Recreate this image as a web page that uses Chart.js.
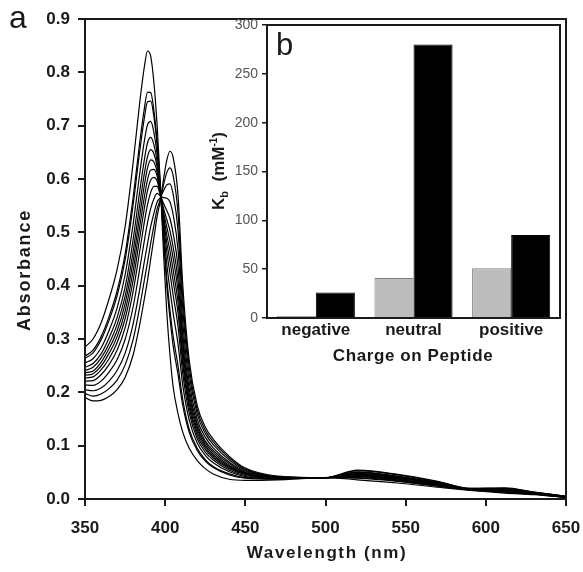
<!DOCTYPE html>
<html>
<head>
<meta charset="utf-8">
<script src="https://cdn.jsdelivr.net/npm/chart.js@4.4.1/dist/chart.umd.min.js"></script>
<style>
  html, body { margin: 0; padding: 0; background: #fff; }
  #wrap { position: relative; width: 583px; height: 572px; }
  #main { position: absolute; left: 0; top: 0; }
  #inset { position: absolute; left: 200px; top: 10px; }
</style>
</head>
<body>
<div id="wrap">
  <canvas id="main" width="583" height="572"></canvas>
  <canvas id="inset" width="363" height="361"></canvas>
</div>
<script>
// wavelengths (nm) shared by all spectra
const wavelengthNm = [350,355,360,365,370,375,380,384,387,389,391,393,395,397,399,401,403,405,408,411,415,420,425,430,440,450,470,500,520,545,570,590,612,630,650];

// absorbance spectra (390 nm form -> 403 nm form)
const abs01 = [0.285,0.300,0.330,0.375,0.430,0.510,0.630,0.740,0.810,0.840,0.830,0.780,0.700,0.590,0.460,0.350,0.270,0.210,0.160,0.125,0.095,0.072,0.057,0.047,0.037,0.035,0.036,0.040,0.036,0.030,0.022,0.016,0.011,0.008,0.003];
const abs02 = [0.268,0.279,0.304,0.342,0.390,0.459,0.565,0.665,0.732,0.763,0.762,0.728,0.669,0.585,0.485,0.401,0.339,0.287,0.234,0.175,0.125,0.091,0.071,0.059,0.045,0.039,0.037,0.040,0.039,0.033,0.024,0.017,0.013,0.009,0.003];
const abs03 = [0.264,0.274,0.298,0.335,0.381,0.448,0.551,0.649,0.714,0.745,0.746,0.716,0.663,0.583,0.491,0.413,0.354,0.305,0.250,0.186,0.131,0.095,0.074,0.061,0.047,0.040,0.038,0.040,0.040,0.034,0.024,0.017,0.013,0.009,0.003];
const abs04 = [0.255,0.263,0.283,0.316,0.358,0.420,0.515,0.607,0.671,0.702,0.708,0.687,0.646,0.580,0.505,0.441,0.392,0.348,0.291,0.213,0.148,0.105,0.082,0.068,0.051,0.042,0.038,0.040,0.042,0.035,0.026,0.017,0.014,0.010,0.004];
const abs05 = [0.247,0.254,0.272,0.302,0.340,0.397,0.486,0.574,0.636,0.668,0.678,0.664,0.632,0.578,0.516,0.464,0.423,0.382,0.324,0.235,0.161,0.113,0.088,0.073,0.054,0.044,0.039,0.040,0.043,0.036,0.026,0.018,0.015,0.010,0.004];
const abs06 = [0.241,0.247,0.264,0.291,0.327,0.380,0.464,0.549,0.610,0.642,0.655,0.647,0.622,0.576,0.524,0.481,0.446,0.408,0.349,0.252,0.171,0.119,0.093,0.077,0.057,0.046,0.039,0.040,0.044,0.037,0.027,0.018,0.016,0.010,0.004];
const abs07 = [0.237,0.240,0.256,0.282,0.315,0.366,0.446,0.528,0.588,0.621,0.636,0.632,0.613,0.575,0.531,0.495,0.465,0.429,0.369,0.265,0.179,0.125,0.097,0.080,0.059,0.047,0.040,0.040,0.045,0.038,0.028,0.018,0.016,0.011,0.004];
const abs08 = [0.232,0.235,0.249,0.273,0.304,0.352,0.428,0.508,0.566,0.599,0.617,0.618,0.605,0.573,0.538,0.510,0.484,0.451,0.390,0.279,0.187,0.130,0.101,0.083,0.061,0.048,0.040,0.040,0.046,0.039,0.028,0.018,0.017,0.011,0.004];
const abs09 = [0.227,0.229,0.242,0.263,0.293,0.338,0.410,0.487,0.545,0.578,0.598,0.603,0.596,0.572,0.545,0.524,0.503,0.472,0.410,0.293,0.196,0.135,0.105,0.087,0.063,0.049,0.040,0.040,0.047,0.040,0.029,0.018,0.017,0.011,0.004];
const abs10 = [0.221,0.222,0.233,0.252,0.279,0.321,0.389,0.462,0.519,0.552,0.575,0.586,0.586,0.570,0.554,0.541,0.526,0.498,0.435,0.309,0.206,0.141,0.109,0.091,0.066,0.050,0.041,0.040,0.048,0.041,0.029,0.019,0.018,0.011,0.004];
const abs11 = [0.214,0.213,0.221,0.238,0.261,0.299,0.360,0.429,0.484,0.518,0.545,0.563,0.573,0.568,0.565,0.564,0.557,0.533,0.468,0.331,0.219,0.149,0.116,0.096,0.069,0.052,0.041,0.040,0.050,0.042,0.030,0.019,0.019,0.012,0.005];
const abs12 = [0.205,0.203,0.208,0.221,0.241,0.273,0.328,0.391,0.445,0.479,0.511,0.536,0.557,0.565,0.578,0.589,0.591,0.571,0.504,0.356,0.234,0.159,0.123,0.102,0.073,0.054,0.042,0.040,0.051,0.043,0.031,0.019,0.019,0.012,0.005];
const abs13 = [0.198,0.193,0.197,0.207,0.223,0.251,0.299,0.358,0.410,0.444,0.480,0.513,0.544,0.562,0.589,0.612,0.621,0.606,0.537,0.378,0.247,0.167,0.129,0.107,0.077,0.056,0.042,0.040,0.053,0.045,0.032,0.020,0.020,0.013,0.005];
const abs14 = [0.190,0.184,0.185,0.192,0.205,0.228,0.270,0.325,0.375,0.410,0.450,0.490,0.530,0.560,0.600,0.635,0.652,0.640,0.570,0.400,0.260,0.175,0.135,0.112,0.080,0.058,0.043,0.040,0.054,0.046,0.033,0.020,0.021,0.013,0.005];

// inset b: binding constants
const chargeLabels = ["negative", "neutral", "positive"];
const kbGray = [2, 41, 51];
const kbBlack = [26, 280, 85];

const FONT = '"Liberation Sans", Arial, sans-serif';
const INK = '#1a1a1a';

const spectra = [abs01,abs02,abs03,abs04,abs05,abs06,abs07,abs08,abs09,abs10,abs11,abs12,abs13,abs14];

// frame + titles for panel a
const mainDecor = {
  id: 'mainDecor',
  afterDraw(chart) {
    const ctx = chart.ctx, a = chart.chartArea;
    ctx.save();
    ctx.strokeStyle = INK;
    ctx.lineWidth = 2;
    ctx.strokeRect(a.left, a.top, a.right - a.left, a.bottom - a.top);
    ctx.fillStyle = INK;
    ctx.textAlign = 'center';
    ctx.textBaseline = 'middle';
    ctx.font = 'bold 17px ' + FONT;
    ctx.letterSpacing = '1.6px';
    ctx.fillText('Wavelength (nm)', 327, 553);
    ctx.save();
    ctx.translate(25, 270);
    ctx.rotate(-Math.PI / 2);
    ctx.font = 'bold 18px ' + FONT;
    ctx.letterSpacing = '1.8px';
    ctx.fillText('Absorbance', 0, 0);
    ctx.restore();
    ctx.letterSpacing = '0px';
    ctx.font = '32px ' + FONT;
    ctx.fillText('a', 18, 19);
    ctx.restore();
  }
};

new Chart(document.getElementById('main'), {
  type: 'line',
  data: {
    datasets: spectra.map((arr) => ({
      data: wavelengthNm.map((w, i) => ({ x: w, y: arr[i] })),
      borderColor: '#000',
      borderWidth: 1.2,
      pointRadius: 0,
      fill: false,
      cubicInterpolationMode: 'monotone'
    }))
  },
  options: {
    responsive: false,
    animation: false,
    layout: { padding: { top: 19, right: 17, left: 0, bottom: 0 } },
    plugins: { legend: { display: false }, tooltip: { enabled: false } },
    scales: {
      x: {
        type: 'linear',
        min: 350,
        max: 650,
        afterFit(scale) { scale.height = 73; scale.paddingRight = 0; scale.paddingLeft = 0; },
        ticks: { stepSize: 50, color: INK, padding: 12, font: { family: FONT, size: 17, weight: 'bold' } },
        grid: { drawOnChartArea: false, tickLength: 7, color: INK, lineWidth: 2 },
        border: { color: INK, width: 2 }
      },
      y: {
        min: 0,
        max: 0.9,
        afterFit(scale) { scale.width = 85; },
        ticks: { stepSize: 0.1, color: INK, padding: 8, font: { family: FONT, size: 17, weight: 'bold' },
                 callback: (v) => v.toFixed(1) },
        grid: { drawOnChartArea: false, tickLength: 7, color: INK, lineWidth: 2 },
        border: { color: INK, width: 2 }
      }
    }
  },
  plugins: [mainDecor]
});

// frame + titles for inset b
const insetDecor = {
  id: 'insetDecor',
  afterDraw(chart) {
    const ctx = chart.ctx, a = chart.chartArea;
    ctx.save();
    ctx.strokeStyle = INK;
    ctx.lineWidth = 2;
    ctx.strokeRect(a.left, a.top, a.right - a.left, a.bottom - a.top);
    ctx.fillStyle = INK;
    ctx.textAlign = 'center';
    ctx.textBaseline = 'middle';
    ctx.font = 'bold 17px ' + FONT;
    ctx.letterSpacing = '0.6px';
    ctx.fillText('Charge on Peptide', 213, 346);
    ctx.letterSpacing = '0px';
    ctx.font = '31px ' + FONT;
    ctx.textAlign = 'left';
    ctx.textBaseline = 'alphabetic';
    ctx.fillText('b', 76, 45);
    // rotated y title: K_b (mM^-1)
    const parts = [['K', 17, 0], ['b', 11, 4], ['  (mM', 17, 0], ['-1', 10, -7], [')', 17, 0]];
    let total = 0;
    parts.forEach((p) => { ctx.font = 'bold ' + p[1] + 'px ' + FONT; total += ctx.measureText(p[0]).width; });
    ctx.translate(18, 161);
    ctx.rotate(-Math.PI / 2);
    let x = -total / 2;
    parts.forEach((p) => {
      ctx.font = 'bold ' + p[1] + 'px ' + FONT;
      ctx.fillText(p[0], x, 6 + p[2]);
      x += ctx.measureText(p[0]).width;
    });
    ctx.restore();
  }
};

new Chart(document.getElementById('inset'), {
  type: 'bar',
  data: {
    labels: chargeLabels,
    datasets: [
      { data: kbGray, backgroundColor: '#bcbcbc', borderColor: '#808080', borderWidth: 1 },
      { data: kbBlack, backgroundColor: '#000', borderColor: '#000', borderWidth: 1 }
    ]
  },
  options: {
    responsive: false,
    animation: false,
    layout: { padding: { top: 15, right: 3, left: 0, bottom: 0 } },
    datasets: { bar: { categoryPercentage: 0.8, barPercentage: 1.0 } },
    plugins: { legend: { display: false }, tooltip: { enabled: false } },
    scales: {
      x: {
        afterFit(scale) { scale.height = 53; scale.paddingLeft = 0; scale.paddingRight = 0; },
        ticks: { color: INK, padding: 2, font: { family: FONT, size: 17, weight: 'bold' } },
        grid: { display: false, drawTicks: false },
        border: { color: INK, width: 2 }
      },
      y: {
        min: 0,
        max: 300,
        afterFit(scale) { scale.width = 67; scale.paddingTop = 0; scale.paddingBottom = 0; },
        ticks: { stepSize: 50, color: '#555', padding: 4, font: { family: FONT, size: 14 } },
        grid: { drawOnChartArea: false, tickLength: 5, color: INK, lineWidth: 1.5 },
        border: { color: INK, width: 2 }
      }
    }
  },
  plugins: [insetDecor]
});
</script>
</body>
</html>
